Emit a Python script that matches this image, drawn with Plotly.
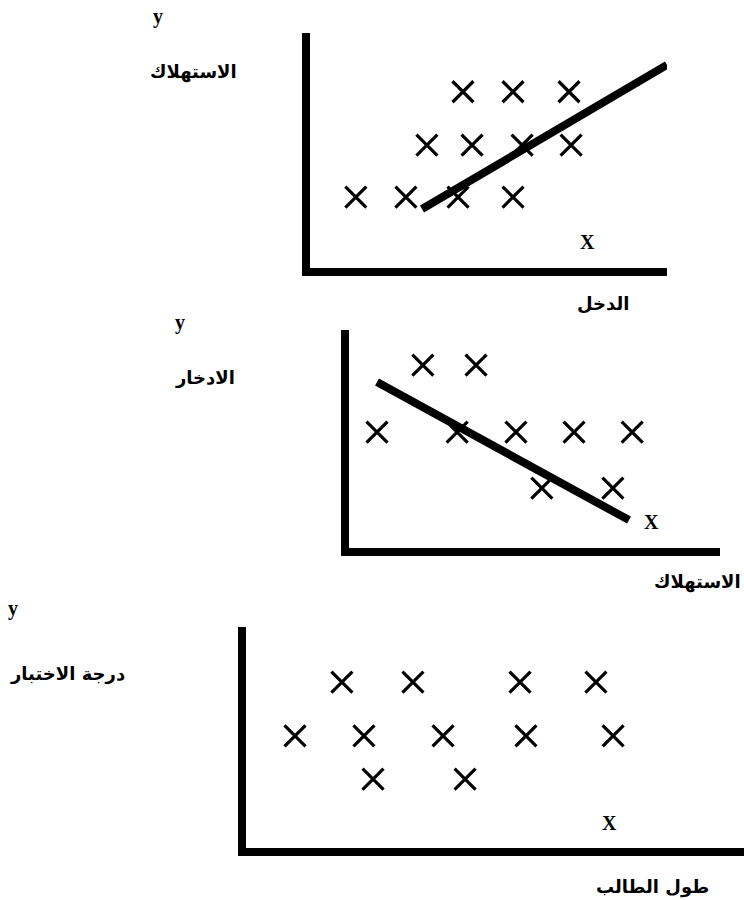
import plotly.graph_objects as go

# panel 1: income (x) vs consumption (y)
income_x = [4.37, 5.8, 7.4, 3.34, 4.63, 6.06, 7.46, 1.31, 2.74, 4.23, 5.8]
consumption_y = [7.5, 7.5, 7.5, 5.23, 5.23, 5.23, 5.23, 3.02, 3.02, 3.02, 3.02]
fit1_x = [3.2, 10.2]
fit1_y = [2.51, 8.64]

# panel 2: consumption (x) vs saving (y)
cons_x = [2.11, 3.63, 0.8, 3.09, 4.77, 6.43, 8.09, 5.51, 7.54]
saving_y = [8.39, 8.39, 5.32, 5.32, 5.32, 5.32, 5.32, 2.75, 2.75]
fit2_x = [0.8, 8.0]
fit2_y = [7.61, 1.28]

# panel 3: student height (x) vs test score (y)
height_x = [2.74, 4.77, 7.83, 10.0, 1.4, 3.37, 5.63, 8.0, 10.49, 3.63, 6.26]
score_y = [7.51, 7.51, 7.51, 7.51, 5.07, 5.07, 5.07, 5.07, 5.07, 3.12, 3.12]

W, H = 744, 900


def px(x):
    return x / W


def py(y):
    return 1 - y / H


fig = go.Figure()

marker = dict(symbol="x-thin", size=21, line=dict(width=3.2, color="black"), color="black")

fig.add_trace(go.Scatter(x=income_x, y=consumption_y, mode="markers", marker=marker,
                         xaxis="x", yaxis="y", cliponaxis=False))
fig.add_trace(go.Scatter(x=fit1_x, y=fit1_y, mode="lines", line=dict(color="black", width=8),
                         xaxis="x", yaxis="y"))
fig.add_trace(go.Scatter(x=cons_x, y=saving_y, mode="markers", marker=marker,
                         xaxis="x2", yaxis="y2", cliponaxis=False))
fig.add_trace(go.Scatter(x=fit2_x, y=fit2_y, mode="lines", line=dict(color="black", width=8),
                         xaxis="x2", yaxis="y2"))
fig.add_trace(go.Scatter(x=height_x, y=score_y, mode="markers", marker=marker,
                         xaxis="x3", yaxis="y3", cliponaxis=False))

ax = dict(showline=True, linewidth=8, linecolor="black", showgrid=False, zeroline=False,
          showticklabels=False, ticks="", fixedrange=True)

serif = dict(family="Liberation Serif, Times New Roman, serif", size=20, color="black")
arab = dict(family="DejaVu Sans, Noto Sans, sans-serif", size=18, color="black")

annotations = []


def label(x, y, text, font, ref="paper"):
    xr = ref if ref == "paper" else "x" + ref
    yr = ref if ref == "paper" else "y" + ref
    if ref == "paper":
        x, y = px(x), py(y)
    annotations.append(dict(x=x, y=y, xref=xr, yref=yr, text="<b>" + text + "</b>",
                            showarrow=False, font=font, xanchor="center", yanchor="middle"))


label(158, 16, "y", serif)
label(193, 72, "الاستهلاك", arab)
label(603, 303, "الدخل", arab)
label(7.94, 1.1, "X", serif, "")

label(180, 323, "y", serif)
label(205, 378, "الادخار", arab)
label(697, 582, "الاستهلاك", arab)
label(8.63, 1.19, "X", serif, "2")

label(13, 608, "y", serif)
label(67, 673, "درجة الاختبار", arab)
label(652, 887, "طول الطالب", arab)
label(10.4, 1.13, "X", serif, "3")

fig.update_layout(
    width=W, height=H,
    margin=dict(l=0, r=0, t=0, b=0),
    paper_bgcolor="white", plot_bgcolor="white",
    showlegend=False,
    xaxis=dict(ax, domain=[px(310), px(667)], range=[0, 10.2], anchor="y"),
    yaxis=dict(ax, domain=[py(268), py(33)], range=[0, 10], anchor="x"),
    xaxis2=dict(ax, domain=[px(349), px(720)], range=[0, 10.6], anchor="y2"),
    yaxis2=dict(ax, domain=[py(548), py(330)], range=[0, 10], anchor="x2"),
    xaxis3=dict(ax, domain=[px(246), 1.0], range=[0, 14.23], anchor="y3"),
    yaxis3=dict(ax, domain=[py(848), py(627)], range=[0, 10], anchor="x3"),
    annotations=annotations,
)

# drop the browser's default 8px body margin so the figure sits at the page corner
fig.write_html("out.html", config={"displayModeBar": False},
               post_script="document.body.style.margin='0';")
